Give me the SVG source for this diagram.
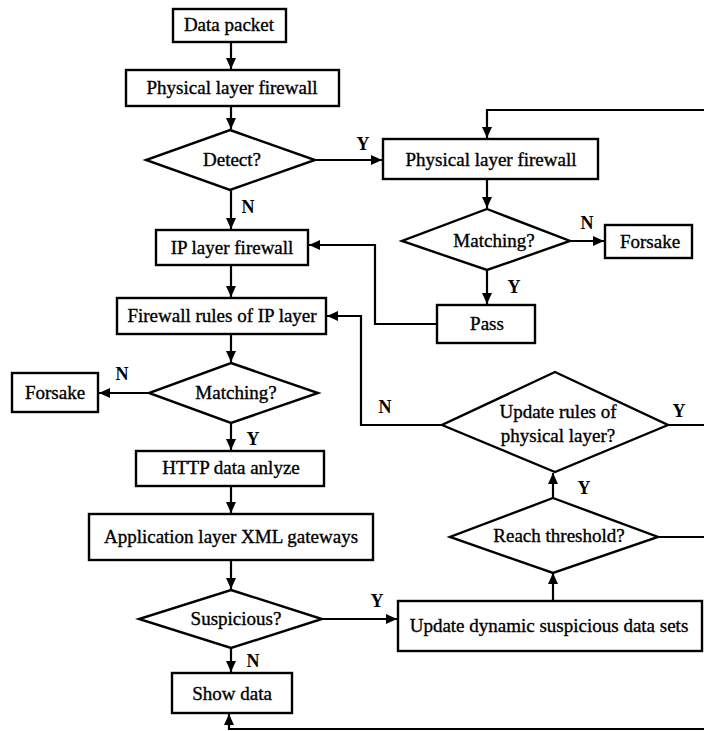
<svg xmlns="http://www.w3.org/2000/svg" width="704" height="731" viewBox="0 0 704 731">
<defs>
<style>
.box{fill:#fff;stroke:#000;stroke-width:2.4}
.t{font-family:"Liberation Serif","Times New Roman",serif;font-size:19px;fill:#000;stroke:#000;stroke-width:0.35;text-anchor:middle}
.lb{font-family:"Liberation Serif","Times New Roman",serif;font-size:18px;font-weight:bold;fill:#000;text-anchor:middle}
.c{fill:none;stroke:#000;stroke-width:2.2}
</style>
<marker id="ah" markerUnits="userSpaceOnUse" markerWidth="12" markerHeight="10" refX="11" refY="5" orient="auto">
<path d="M0,0 L11,5 L0,10 Z" fill="#000"/>
</marker>
</defs>
<rect width="704" height="731" fill="#fff"/>
<g id="connectors">
<path class="c" d="M231 42 V69" marker-end="url(#ah)"/>
<path class="c" d="M231 106 V129" marker-end="url(#ah)"/>
<path class="c" d="M231 190 V229" marker-end="url(#ah)"/>
<path class="c" d="M231 265 V297" marker-end="url(#ah)"/>
<path class="c" d="M231 334 V362" marker-end="url(#ah)"/>
<path class="c" d="M149 393 H99" marker-end="url(#ah)"/>
<path class="c" d="M231 423 V450" marker-end="url(#ah)"/>
<path class="c" d="M231 486 V513" marker-end="url(#ah)"/>
<path class="c" d="M231 560 V589" marker-end="url(#ah)"/>
<path class="c" d="M231 648 V672" marker-end="url(#ah)"/>
<path class="c" d="M322 619 H397" marker-end="url(#ah)"/>
<path class="c" d="M553 601 V573" marker-end="url(#ah)"/>
<path class="c" d="M553 498 V473" marker-end="url(#ah)"/>
<path class="c" d="M442 425 H361 V316 H327" marker-end="url(#ah)"/>
<path class="c" d="M668 425 H706"/>
<path class="c" d="M658 537 H706"/>
<path class="c" d="M706 729 H229 V714" marker-end="url(#ah)"/>
<path class="c" d="M706 110 H487 V138" marker-end="url(#ah)"/>
<path class="c" d="M315 160 H382" marker-end="url(#ah)"/>
<path class="c" d="M487 179 V208" marker-end="url(#ah)"/>
<path class="c" d="M570 241 H604" marker-end="url(#ah)"/>
<path class="c" d="M487 270 V304" marker-end="url(#ah)"/>
<path class="c" d="M437 324 H375 V245 H309" marker-end="url(#ah)"/>
</g>
<g id="data-packet"><rect class="box" x="173" y="9" width="113" height="33"/><text class="t" x="229" y="31">Data packet</text></g>
<g id="physical-fw-1"><rect class="box" x="126" y="70" width="213" height="36"/><text class="t" x="232" y="94">Physical layer firewall</text></g>
<g id="detect"><polygon class="box" points="230,130 315,160 230,190 146,160"/><text class="t" x="232" y="166">Detect?</text></g>
<g id="ip-fw"><rect class="box" x="156" y="230" width="152" height="35"/><text class="t" x="232" y="254">IP layer firewall</text></g>
<g id="fw-rules-ip"><rect class="box" x="117" y="298" width="209" height="36"/><text class="t" x="222" y="322">Firewall rules of IP layer</text></g>
<g id="matching-1"><polygon class="box" points="231,363 318,393 231,423 149,393"/><text class="t" x="236" y="399">Matching?</text></g>
<g id="forsake-1"><rect class="box" x="12" y="373" width="86" height="39"/><text class="t" x="55" y="399">Forsake</text></g>
<g id="http"><rect class="box" x="136" y="451" width="188" height="35"/><text class="t" x="231" y="474">HTTP data anlyze</text></g>
<g id="app-xml"><rect class="box" x="89" y="514" width="284" height="46"/><text class="t" x="231" y="543">Application layer XML gateways</text></g>
<g id="suspicious"><polygon class="box" points="231,590 322,619 231,648 139,619"/><text class="t" x="236" y="625">Suspicious?</text></g>
<g id="show-data"><rect class="box" x="172" y="673" width="120" height="40"/><text class="t" x="232" y="700">Show data</text></g>
<g id="physical-fw-2"><rect class="box" x="383" y="139" width="215" height="40"/><text class="t" x="491" y="166">Physical layer firewall</text></g>
<g id="matching-2"><polygon class="box" points="487,209 570,241 487,270 402,241"/><text class="t" x="494" y="247">Matching?</text></g>
<g id="forsake-2"><rect class="box" x="605" y="225" width="87" height="33"/><text class="t" x="650" y="248">Forsake</text></g>
<g id="pass"><rect class="box" x="437" y="305" width="98" height="38"/><text class="t" x="487" y="330">Pass</text></g>
<g id="update-rules"><polygon class="box" points="555,372 668,425 555,472 442,425"/><text class="t" x="558" y="418">Update rules of</text><text class="t" x="558" y="442">physical layer?</text></g>
<g id="reach-threshold"><polygon class="box" points="553,498 658,537 553,573 450,537"/><text class="t" x="559" y="542">Reach threshold?</text></g>
<g id="update-dynamic"><rect class="box" x="398" y="601" width="304" height="50"/><text class="t" x="549" y="632">Update dynamic suspicious data sets</text></g>
<g id="labels">
<text class="lb" x="248" y="213">N</text>
<text class="lb" x="363" y="150">Y</text>
<text class="lb" x="587" y="229">N</text>
<text class="lb" x="514" y="293">Y</text>
<text class="lb" x="122" y="380">N</text>
<text class="lb" x="253" y="445">Y</text>
<text class="lb" x="385" y="413">N</text>
<text class="lb" x="679" y="417">Y</text>
<text class="lb" x="584" y="494">Y</text>
<text class="lb" x="377" y="607">Y</text>
<text class="lb" x="253" y="667">N</text>
</g>
</svg>
